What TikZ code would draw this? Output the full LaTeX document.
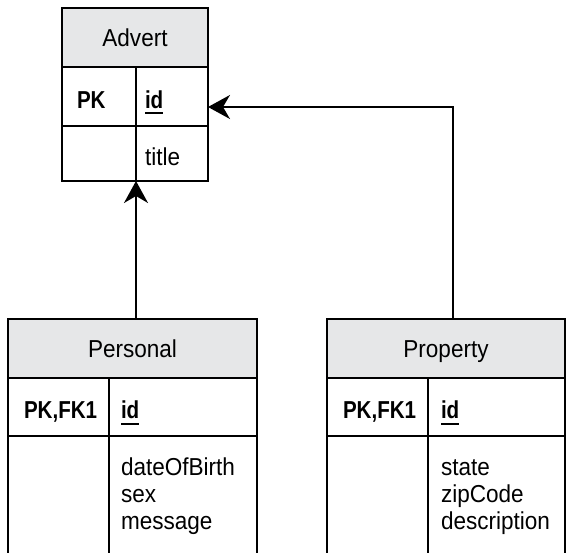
\documentclass[tikz,border=0pt]{standalone}
\usepackage{fontspec}
\setmainfont{Liberation Sans}[FakeStretch=0.92,BoldFeatures={FakeStretch=0.84}]
\usepackage{tikz}
\usetikzlibrary{positioning,arrows.meta}
\definecolor{headgray}{RGB}{230,231,232}
% underlined key field
\newcommand{\pkline}[1]{\setbox0\hbox{#1}\rlap{\rule[-6pt]{\wd0}{2pt}}\box0}

\begin{document}
\begin{tikzpicture}[x=1pt,y=-1pt,line width=1.8pt,
	every node/.style={inner sep=0pt,outer sep=0pt,font=\fontsize{24.5}{27}\selectfont},
	head/.style={draw,fill=headgray,minimum height=59pt,text height=21pt,text depth=2pt,anchor=north west},
	cell/.style={draw,align=left,minimum height=#1,text height=28pt,text depth=4pt},
	keycol/.style={font=\fontsize{24.5}{27}\selectfont\bfseries},
	link/.style={-{Stealth[length=22pt,width=24pt,inset=7pt]}}]
	\useasboundingbox (0,0) rectangle (566,553);
	\clip (0,0) rectangle (566,553);
	%% Advert table
	\node[head,minimum width=146pt] (advert) at (62,8) {Advert};
	\node[cell=59pt,keycol,minimum width=74pt,text width=44pt,inner xsep=15pt,below right=0pt of advert.south west] (advertpk) {PK};
	\node[cell=59pt,minimum width=72pt,text width=54pt,inner xsep=9pt,right=0pt of advertpk] (advertid) {\textbf{\pkline{id}}};
	\node[cell=55pt,minimum width=74pt,text width=44pt,inner xsep=15pt,below=0pt of advertpk] (advertnone) {};
	\node[cell=55pt,minimum width=72pt,text width=54pt,inner xsep=9pt,right=0pt of advertnone] (adverttitle) {title};
	%% Personal table
	\node[head,minimum width=249pt] (personal) at (8,319) {Personal};
	\node[cell=58pt,keycol,minimum width=101pt,text width=69pt,inner xsep=16pt,below right=0pt of personal.south west] (personalpk) {PK,FK1};
	\node[cell=58pt,minimum width=148pt,text width=124pt,inner xsep=12pt,right=0pt of personalpk] (personalid) {\textbf{\pkline{id}}};
	\node[cell=124pt,minimum width=101pt,text width=69pt,inner xsep=16pt,below=0pt of personalpk] (personalnone) {};
	\node[cell=124pt,minimum width=148pt,text width=124pt,inner xsep=12pt,text height=17pt,text depth=61pt,right=0pt of personalnone] (personalfields) {dateOfBirth\\sex\\message};
	%% Property table
	\node[head,minimum width=238pt] (property) at (327,319) {Property};
	\node[cell=58pt,keycol,minimum width=101pt,text width=69pt,inner xsep=16pt,below right=0pt of property.south west] (propertypk) {PK,FK1};
	\node[cell=58pt,minimum width=137pt,text width=111pt,inner xsep=13pt,right=0pt of propertypk] (propertyid) {\textbf{\pkline{id}}};
	\node[cell=124pt,minimum width=101pt,text width=69pt,inner xsep=16pt,below=0pt of propertypk] (propertynone) {};
	\node[cell=124pt,minimum width=137pt,text width=111pt,inner xsep=13pt,text height=17pt,text depth=61pt,right=0pt of propertynone] (propertyfields) {state\\zipCode\\description};
	%% the links
	\draw[link] (personal.north -| adverttitle.south west) -- (adverttitle.south west);
	\draw[link] ([xshift=7pt]property.north) |- ([yshift=-10.5pt]advertid.east);
\end{tikzpicture}
\end{document}
